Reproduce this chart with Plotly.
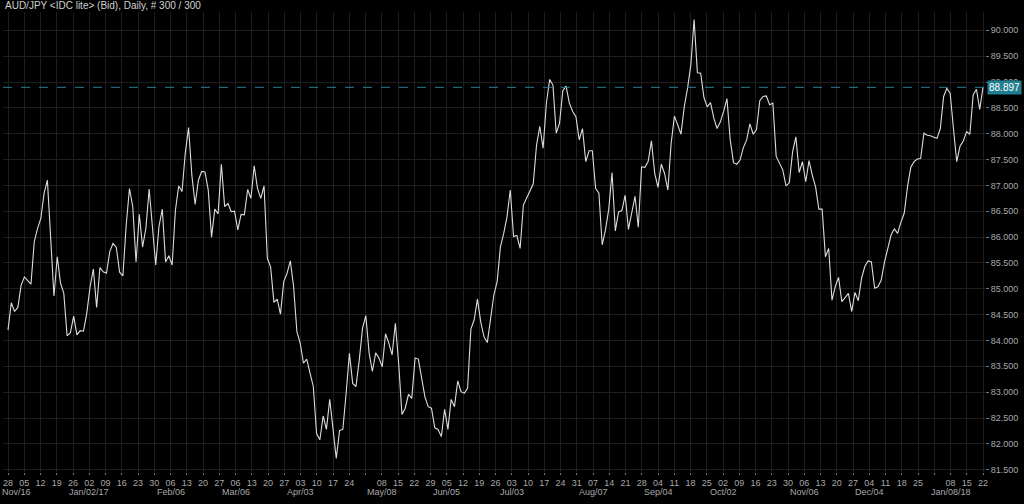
import numpy as np
import plotly.graph_objects as go

# AUD/JPY daily closes, Nov 28 2016 -> Jan 22 2018
prices = [
    84.20, 84.73, 84.56, 84.64, 85.07, 85.23, 85.16, 85.09, 85.91, 86.17,
    86.36, 86.85, 87.10, 86.01, 84.86, 85.62, 85.11, 84.91, 84.09, 84.15,
    84.47, 84.11, 84.19, 84.18, 84.53, 85.04, 85.38, 84.64, 85.41, 85.33,
    85.30, 85.72, 85.88, 85.80, 85.32, 85.25, 86.23, 86.94, 86.59, 85.52,
    86.44, 85.81, 86.17, 86.93, 86.14, 85.46, 86.21, 86.54,
    85.52, 85.64, 85.46, 86.52, 86.99, 86.88, 87.62, 88.12, 87.20, 86.63,
    87.10, 87.27, 87.26, 86.91, 86.00, 86.54, 86.45, 87.41, 86.59, 86.65,
    86.49, 86.50, 86.14, 86.44, 86.43, 86.92, 86.75, 87.38, 86.94, 86.75,
    86.99, 85.59, 85.42, 84.74, 84.80, 84.51, 85.14, 85.30, 85.54, 85.04,
    84.17, 83.95, 83.56, 83.64, 83.37, 83.11, 82.20, 82.08, 82.54, 82.28,
    82.86,
    82.27, 81.72, 82.26, 82.28, 82.98, 83.75, 83.17, 83.11, 83.62, 84.24,
    84.48, 83.76, 83.40, 83.76, 83.66, 83.49, 84.13, 83.95, 83.72, 84.33,
    83.56, 82.57, 82.69, 82.96, 82.88, 83.66, 83.64, 83.30, 82.91, 82.72,
    82.69, 82.31, 82.28, 82.14, 82.67, 82.28, 82.86, 82.72, 83.22, 83.01,
    82.98, 83.08, 84.22, 84.40, 84.80, 84.36, 84.07, 83.96, 84.43, 84.88,
    85.14, 85.81, 86.07, 86.39, 86.91, 86.01, 86.03, 85.78, 86.62, 86.75,
    86.89, 87.03, 87.78, 88.14, 87.72, 88.59, 89.05, 88.94, 88.01, 88.20,
    88.83, 88.92, 88.59, 88.43, 88.33, 87.88, 88.10, 87.46, 87.67, 87.67,
    86.94, 86.85, 85.85, 86.14, 86.54, 87.25, 86.12, 86.49, 86.51, 86.81,
    86.15, 86.49, 86.79, 86.19, 87.36, 87.35, 87.46, 87.86, 87.23, 86.96,
    87.41, 87.23, 86.91, 87.81, 88.34, 88.17, 87.99, 88.52, 88.88, 89.33,
    90.21, 89.18, 89.17, 88.70, 88.52, 88.60, 88.30, 88.10, 88.23, 88.43,
    88.68, 87.88, 87.44, 87.41, 87.49, 87.73, 87.88, 88.19, 87.99, 88.08,
    88.64, 88.72, 88.73, 88.56, 88.59, 87.56, 87.44, 87.30, 86.99, 87.05,
    87.65, 87.94, 87.25, 87.46, 87.07, 87.48, 87.20, 86.97, 86.54, 86.54,
    85.62, 85.78, 84.78, 85.04, 85.22, 84.75, 84.83, 84.91, 84.56, 84.93,
    84.77, 85.20, 85.43, 85.54, 85.52, 85.01, 85.04, 85.17, 85.52, 85.81,
    86.04, 86.16, 86.07, 86.29, 86.46, 86.97, 87.35, 87.46, 87.51, 87.52,
    88.01, 87.97, 87.96, 87.93, 87.91, 88.10, 88.72, 88.88, 88.78, 88.10,
    87.46, 87.76, 87.86, 88.04, 87.99, 88.75, 88.86, 88.47, 88.897,
]
last_price = 88.897

# weekly ticks (Mondays), Nov 28 2016 .. Jan 22 2018
week_days = ["28", "05", "12", "19", "26", "02", "09", "16", "23", "30",
             "06", "13", "20", "27", "06", "13", "20", "27", "03", "10",
             "17", "24", "", "08", "15", "22", "29", "05", "12", "19",
             "26", "03", "10", "17", "24", "31", "07", "14", "21", "28",
             "04", "11", "18", "25", "02", "09", "16", "23", "30", "06",
             "13", "20", "27", "04", "11", "18", "25", "", "08", "15", "22"]
month_labels = {0: "Nov/16", 5: "Jan/02/17", 10: "Feb/06", 14: "Mar/06",
                18: "Apr/03", 23: "May/08", 27: "Jun/05", 31: "Jul/03",
                36: "Aug/07", 40: "Sep/04", 44: "Oct/02", 49: "Nov/06",
                53: "Dec/04", 58: "Jan/08/18"}
y_ticks = [81.5 + 0.5 * i for i in range(18)]

N = len(prices)
x = np.arange(N)
nweeks = len(week_days) - 1
tickvals = [k * (N - 1) / nweeks for k in range(len(week_days))]

# layout geometry
L, R, T, B = 3, 39, 12, 32
W, H = 1024, 504
pw = W - L - R
ppi = 975 / (N - 1)
xr = [-5 / ppi, (N - 1) + (pw - 5 - 975) / ppi]

FONT = "Liberation Sans, Arial"
LABEL_COLOR = "#a8a8a8"

fig = go.Figure()
fig.add_trace(go.Scatter(x=x, y=prices, mode="lines",
                         line=dict(color="#dcdcdc", width=1.1),
                         hoverinfo="skip", showlegend=False))

fig.add_shape(type="line", xref="paper", yref="y", x0=0, x1=1,
              y0=last_price, y1=last_price,
              line=dict(color="#2a7f8f", width=1, dash="dash"))

fig.add_annotation(xref="paper", yref="y", x=1.0, y=last_price,
                   xanchor="left", yanchor="middle", xshift=2,
                   text=f"{last_price:.3f}", showarrow=False,
                   font=dict(size=10, color="#ffffff", family=FONT),
                   bgcolor="#1f7f91", borderpad=1)

fig.add_annotation(xref="paper", yref="paper", x=0, y=1, xanchor="left",
                   yanchor="bottom", xshift=0, yshift=-1,
                   text="AUD/JPY &lt;IDC lite&gt; (Bid), Daily, # 300 / 300",
                   showarrow=False,
                   font=dict(size=10, color="#d0d0d0", family=FONT))

# second row of the time axis: month labels
for k, lab in month_labels.items():
    first = (k == 0)
    fig.add_annotation(xref="x" if not first else "paper", yref="paper",
                       x=tickvals[k] if not first else 0, y=0,
                       xanchor="center" if not first else "left",
                       xshift=0 if not first else -3,
                       yanchor="middle", yshift=-20,
                       text=lab, showarrow=False,
                       font=dict(size=9, color=LABEL_COLOR, family=FONT))

fig.update_layout(
    width=W, height=H,
    margin=dict(l=L, r=R, t=T, b=B),
    paper_bgcolor="#000000", plot_bgcolor="#000000",
    font=dict(family=FONT, size=9, color=LABEL_COLOR),
    xaxis=dict(range=xr, tickmode="array", tickvals=tickvals, ticktext=week_days,
               showgrid=True, gridcolor="#1e1e1e", gridwidth=1,
               ticks="outside", ticklen=2, tickcolor="#777777",
               tickfont=dict(size=9, color=LABEL_COLOR),
               ticklabeloverflow="allow",
               zeroline=False, showline=False, tickangle=0, automargin=False),
    yaxis=dict(range=[81.456, 90.354], side="right", tickmode="array",
               tickvals=y_ticks, ticktext=[f"{v:.3f}" for v in y_ticks],
               showgrid=True, gridcolor="#1e1e1e", gridwidth=1,
               ticks="outside", ticklen=3, tickcolor="#777777",
               tickfont=dict(size=9, color=LABEL_COLOR),
               zeroline=False, showline=False, automargin=False),
)

fig.write_html("out.html",
               config={"displayModeBar": False},
               post_script="document.body.style.margin='0';"
                           "document.body.style.background='#000';")
